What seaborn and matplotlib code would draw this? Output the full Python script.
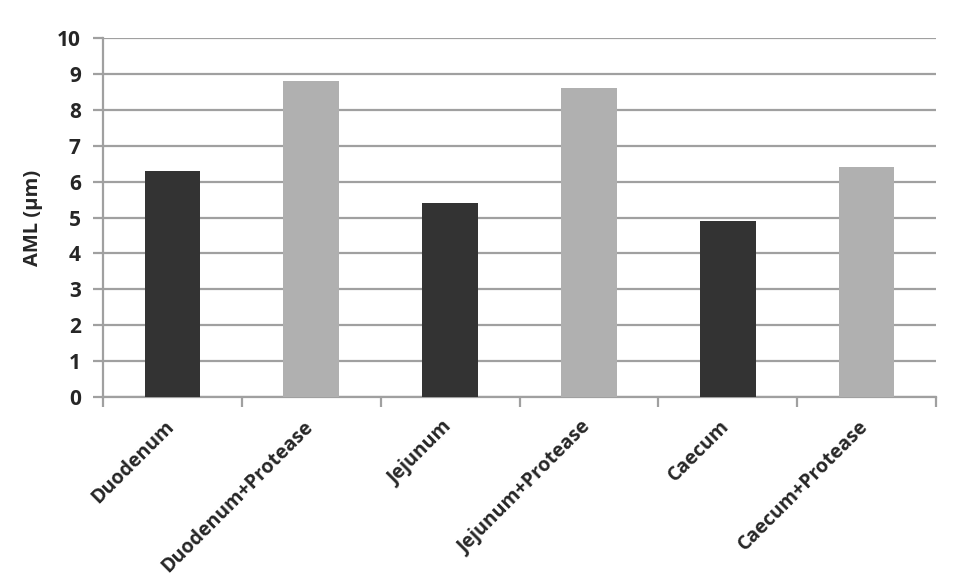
import matplotlib
matplotlib.use("Agg")
import matplotlib.pyplot as plt
import matplotlib.transforms as mtransforms
import seaborn as sns
import pandas as pd
import numpy as np

categories = ["Duodenum", "Duodenum+Protease", "Jejunum", "Jejunum+Protease", "Caecum", "Caecum+Protease"]
values = [6.3, 8.8, 5.4, 8.6, 4.9, 6.4]
colors = ["#333333", "#b0b0b0", "#333333", "#b0b0b0", "#333333", "#b0b0b0"]
y_ticks = list(range(0, 11))

sns.set_theme(style="white")
plt.rcParams["font.family"] = ["Open Sans", "DejaVu Sans"]

df = pd.DataFrame({"cat": categories, "val": values})

fig = plt.figure(figsize=(9.68, 5.84), dpi=100)
ax = fig.add_axes([0.1064, 0.320, 0.8606, 0.615])

sns.barplot(data=df, x="cat", y="val", hue="cat", palette=colors, width=0.4,
            legend=False, ax=ax, saturation=1, zorder=3, edgecolor="none")

ax.set_ylim(0, 10)
ax.set_xlim(-0.5, len(categories) - 0.5)
ax.set_yticks(y_ticks)
ax.yaxis.grid(True, color="#a0a0a0", linewidth=1.6, zorder=0)
ax.set_axisbelow(True)

for s in ["top", "right"]:
    ax.spines[s].set_visible(False)
for s in ["left", "bottom"]:
    ax.spines[s].set_color("#a0a0a0")
    ax.spines[s].set_linewidth(1.6)

ax.tick_params(axis="y", which="major", direction="out", length=7, width=1.6,
               color="#a0a0a0", left=True, labelsize=15, pad=9)
ax.tick_params(axis="x", which="major", length=0, labelsize=14, pad=12)
ax.set_xticks(np.arange(-0.5, len(categories)), minor=True)
ax.tick_params(axis="x", which="minor", direction="out", length=7, width=1.6,
               color="#a0a0a0", bottom=True)

for lab in ax.get_yticklabels():
    lab.set_fontweight("bold")
ax.set_xticks(range(len(categories)))
ax.set_xticklabels(categories, rotation=45, ha="right", rotation_mode="anchor",
                   fontweight="bold")
offset = mtransforms.ScaledTranslation(-8 / 100, -3 / 100, fig.dpi_scale_trans)
for lab in ax.get_xticklabels():
    lab.set_transform(lab.get_transform() + offset)

ax.set_xlabel("")
ax.set_ylabel("AML (μm)", fontsize=14.5, fontweight="bold", labelpad=10)

fig.savefig("out.png", dpi=100)
